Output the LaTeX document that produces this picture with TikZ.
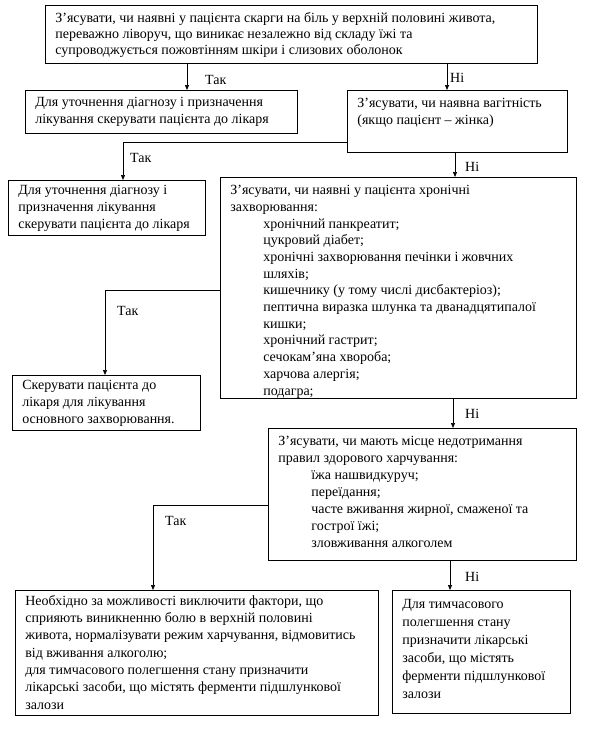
\documentclass[tikz,border=0pt]{standalone}
\usepackage{fontspec}
\setmainfont{Liberation Serif}
\usetikzlibrary{arrows.meta}
\tikzset{
  box/.style={draw, line width=0.7pt, inner xsep=10pt, inner ysep=0pt, anchor=north west},
  arr/.style={line width=0.7pt, -{Triangle[length=5pt,width=4pt]}},
  lbl/.style={font=\fontsize{14}{16}\selectfont, anchor=west, inner sep=0pt}
}
\newcommand\bx[7][7]{\node[box] (#2) at (#3,#4) {\parbox[c][#6pt][t]{\dimexpr#5pt-20pt\relax}{\fontsize{14}{17}\selectfont\raggedright\vspace*{#1pt}#7}};}
\newcommand\ind{\hspace*{33pt}}
\begin{document}
\begin{tikzpicture}[x=1pt,y=-1pt]
\useasboundingbox (0,0) rectangle (595,747);
\bx{b1}{45}{5}{492}{58}{\fontsize{14}{16}\selectfont З’ясувати, чи наявні у пацієнта скарги на біль у верхній половині живота,\\ переважно ліворуч, що виникає незалежно від складу їжі та\\ супроводжується пожовтінням шкіри і слизових оболонок}
\bx{b2}{25}{90}{272}{43}{Для уточнення діагнозу і призначення\\ лікування скерувати пацієнта до лікаря}
\bx[8]{b3}{347}{90}{220}{62}{З’ясувати, чи наявна вагітність\\ (якщо пацієнт – жінка)}
\bx[5]{b4}{8}{180}{197}{55}{Для уточнення діагнозу і\\ призначення лікування\\ скерувати пацієнта до лікаря}
\bx[8]{b5}{220}{177}{356}{221}{\fontsize{14}{16.7}\selectfont З’ясувати, чи наявні у пацієнта хронічні\\ захворювання:\\
\ind хронічний панкреатит;\\
\ind цукровий діабет;\\
\ind хронічні захворювання печінки і жовчних\\
\ind шляхів;\\
\ind кишечнику (у тому числі дисбактеріоз);\\
\ind пептична виразка шлунка та дванадцятипалої\\
\ind кишки;\\
\ind хронічний гастрит;\\
\ind сечокам'яна хвороба;\\
\ind харчова алергія;\\
\ind подагра;}
\bx[5]{b6}{12}{375}{188}{55}{Скерувати пацієнта до\\ лікаря для лікування\\ основного захворювання.}
\bx[8]{b7}{268}{428}{308}{132}{З’ясувати, чи мають місце недотримання\\ правил здорового харчування:\\
\ind їжа нашвидкуруч;\\
\ind переїдання;\\
\ind часте вживання жирної, смаженої та\\
\ind гострої їжі;\\
\ind зловживання алкоголем}
\bx[5]{b8}{15}{590}{363}{125}{\fontsize{14}{17.3}\selectfont Необхідно за можливості виключити фактори, що\\ сприяють виникненню болю в верхній половині\\ живота, нормалізувати режим харчування, відмовитись\\ від вживання алкоголю;\\ для тимчасового полегшення стану призначити\\ лікарські засоби, що містять ферменти підшлункової\\ залози}
\bx[9]{b9}{392}{590}{178}{123}{\fontsize{14}{18}\selectfont Для тимчасового\\ полегшення стану\\ призначити лікарські\\ засоби, що містять\\ ферменти підшлункової\\ залози}
% connectors
\coordinate (x1) at (187,0);
\coordinate (x2) at (447,0);
\coordinate (x3) at (455,0);
\coordinate (x4) at (453,0);
\coordinate (x5) at (450,0);
\coordinate (k1) at (123,142);
\coordinate (k2) at (105,290);
\coordinate (k3) at (153,505);
\draw[arr] (x1 |- b1.south) -- (x1 |- b2.north);
\draw[arr] (x2 |- b1.south) -- (x2 |- b3.north);
\draw[arr] (b3.west |- k1) -- (k1) -- (k1 |- b4.north);
\draw[arr] (x3 |- b3.south) -- (x3 |- b5.north);
\draw[arr] (b5.west |- k2) -- (k2) -- (k2 |- b6.north);
\draw[arr] (x4 |- b5.south) -- (x4 |- b7.north);
\draw[arr] (b7.west |- k3) -- (k3) -- (k3 |- b8.north);
\draw[arr] (x5 |- b7.south) -- (x5 |- b9.north);
% labels
\node[lbl] (t1) at (205,80) {Так};
\node[lbl] (n1) at (450,78) {Ні};
\node[lbl] (t2) at (130,158) {Так};
\node[lbl] (n2) at (465,167) {Ні};
\node[lbl] (t3) at (117,311) {Так};
\node[lbl] (n3) at (465,414) {Ні};
\node[lbl] (t4) at (165,521) {Так};
\node[lbl] (n4) at (465,577) {Ні};
\end{tikzpicture}
\end{document}
